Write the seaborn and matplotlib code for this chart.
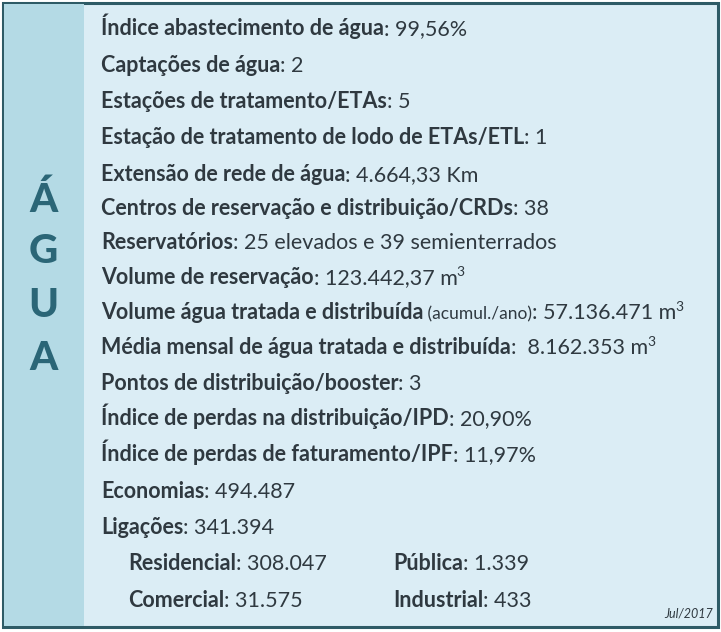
import matplotlib
matplotlib.use("Agg")
import matplotlib.pyplot as plt
from matplotlib.patches import Rectangle
import seaborn as sns

# --- data --------------------------------------------------------------------
TITLE_LETTERS = ["Á", "G", "U", "A"]
LABELS = [
    "Índice abastecimento de água", "Captações de água", "Estações de tratamento/ETAs",
    "Estação de tratamento de lodo de ETAs/ETL", "Extensão de rede de água",
    "Centros de reservação e distribuição/CRDs", "Reservatórios", "Volume de reservação",
    "Volume água tratada e distribuída", "Média mensal de água tratada e distribuída",
    "Pontos de distribuição/booster", "Índice de perdas na distribuição/IPD",
    "Índice de perdas de faturamento/IPF", "Economias", "Ligações",
]
NOTES = ["", "", "", "", "", "", "", "", " (acumul./ano)", "", "", "", "", "", ""]
VALUES = [
    "99,56%", "2", "5", "1", "4.664,33 Km", "38", "25 elevados e 39 semienterrados",
    "123.442,37 m", "57.136.471 m", " 8.162.353 m", "3", "20,90%", "11,97%",
    "494.487", "341.394",
]
SUPERS = ["", "", "", "", "", "", "", "3", "3", "3", "", "", "", "", ""]
SUB_LABELS = ["Residencial", "Pública", "Comercial", "Industrial"]
SUB_VALUES = ["308.047", "1.339", "31.575", "433"]
DATE_NOTE = "Jul/2017"

BORDER = "#2e5b66"
STRIP = "#b4dae5"
PANEL = "#dbedf5"
TEXT = "#2f3940"
LETTER = "#2b6677"
FONT = ["Lato", "DejaVu Sans"]

sns.set_theme(style="white")
plt.rcParams["font.family"] = FONT

fig = plt.figure(figsize=(7.21, 6.32), dpi=100)
ax = fig.add_axes([0, 0, 1, 1])
ax.set_xlim(0, 721)
ax.set_ylim(632, 0)
ax.axis("off")

ax.add_patch(Rectangle((3, 3), 715, 624, facecolor=PANEL, edgecolor=BORDER, lw=2.2))
ax.add_patch(Rectangle((4, 4), 80, 622, facecolor=STRIP, edgecolor="none"))

for letter, y in zip(TITLE_LETTERS, [212, 263, 317, 370]):
    ax.text(43, y, letter, fontsize=29, fontweight="black", color=LETTER,
            ha="center", va="baseline")

fig.canvas.draw()
renderer = fig.canvas.get_renderer()
inv = ax.transData.inverted()


def run(x, y, parts, size=15.5):
    """Draw (text, weight, size, rise) segments one after another on a baseline."""
    for txt, weight, fs, rise in parts:
        if not txt:
            continue
        t = ax.text(x - (1 if rise else 0), y - rise, txt, fontsize=fs or size,
                    fontweight=weight, color=TEXT, ha="left", va="baseline")
        bb = t.get_window_extent(renderer)
        x = inv.transform((bb.x1, bb.y0))[0]


ys = [35, 72, 108, 144, 181, 215, 249, 284, 319, 354, 390, 425, 461, 498, 534]
for lab, note, val, sup, y in zip(LABELS, NOTES, VALUES, SUPERS, ys):
    run(101, y, [(lab, "bold", None, 0), (note, "normal", 12.5, 0),
                 (": " + val, "normal", None, 0), (sup, "normal", 10, 8)])

sub_pos = [(128, 570), (393, 570), (128, 607), (393, 607)]
for lab, val, (x, y) in zip(SUB_LABELS, SUB_VALUES, sub_pos):
    run(x, y, [(lab, "bold", None, 0), (": " + val, "normal", None, 0)])

ax.text(713, 618, DATE_NOTE, fontsize=9, style="italic", color=TEXT,
        ha="right", va="baseline")

fig.savefig("out.png", dpi=100)
